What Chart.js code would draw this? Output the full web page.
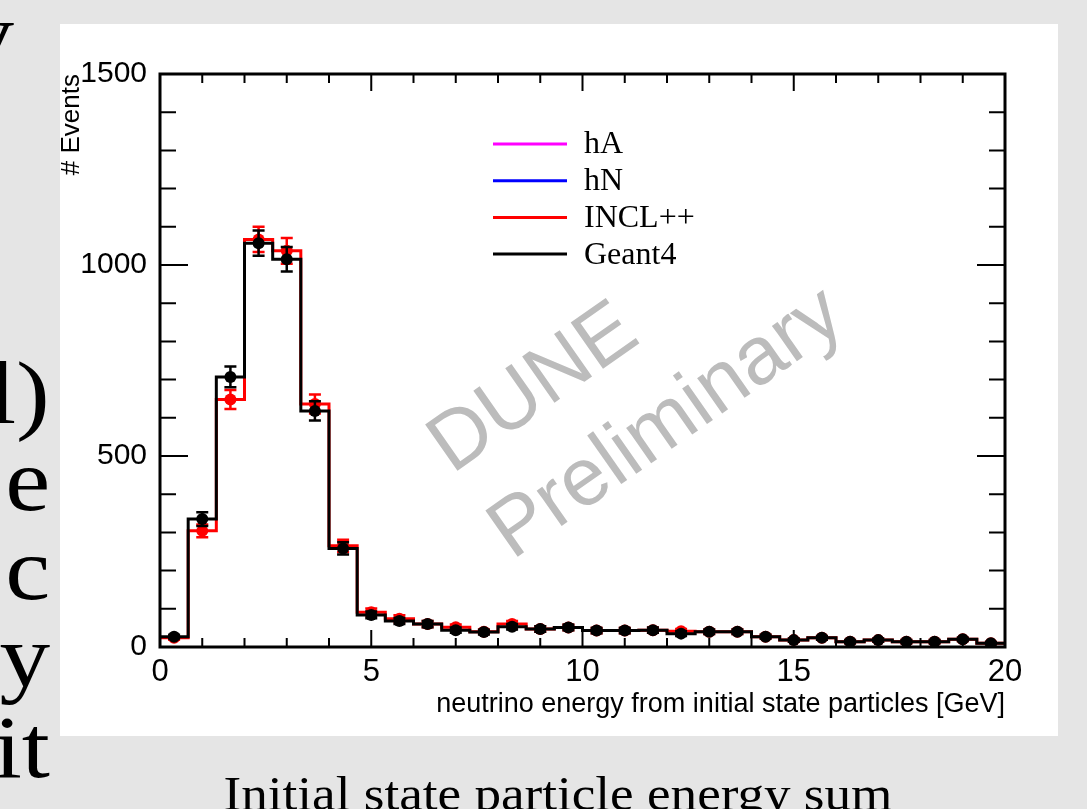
<!DOCTYPE html>
<html>
<head>
<meta charset="utf-8">
<script src="https://cdn.jsdelivr.net/npm/chart.js@4.4.1/dist/chart.umd.min.js"></script>
<style>
  html, body { margin: 0; padding: 0; }
  body {
    width: 1087px; height: 809px; overflow: hidden; position: relative;
    background: #e5e5e5; font-family: "Liberation Serif", "Times New Roman", serif; color: #000;
  }
  #panel { position: absolute; left: 60px; top: 24px; width: 998px; height: 712px; background: #fff; }
  .side {
    position: absolute; right: 1037px; font-size: 88px; line-height: 1; white-space: nowrap;
    transform: scaleX(1.15); transform-origin: right center;
  }
  #caption {
    position: absolute; left: 0; top: 770px; width: 1116px; text-align: center;
    font-size: 48px; line-height: 1; white-space: nowrap; transform: scaleX(1.107);
  }
</style>
</head>
<body>
<div class="side" style="right:1073px; top:-9px">y</div>
<div class="side" style="top:350px">l)</div>
<div class="side" style="top:437px">e</div>
<div class="side" style="top:526px">c</div>
<div class="side" style="top:613px">y</div>
<div class="side" style="top:704px">it</div>
<div id="caption">Initial state particle energy sum</div>
<div id="panel"><canvas id="chart" width="998" height="712"></canvas></div>
<script>
// bin edges of the histogram, GeV (30 bins of 2/3 GeV)
const BIN_EDGES = [0, 0.667, 1.333, 2, 2.667, 3.333, 4, 4.667, 5.333, 6, 6.667, 7.333, 8, 8.667, 9.333,
  10, 10.667, 11.333, 12, 12.667, 13.333, 14, 14.667, 15.333, 16, 16.667, 17.333, 18, 18.667, 19.333, 20]

const GEANT4_EVENTS = [27, 335, 707, 1057, 1015, 618, 258, 84, 68, 60, 44, 39, 53, 47, 51,
  43, 43, 44, 35, 40, 40, 27, 18, 24, 14, 18, 14, 14, 20, 10]
const GEANT4_ERRORS = [5, 18, 27, 33, 32, 25, 16, 9, 8, 8, 7, 6, 7, 7, 7,
  7, 7, 7, 6, 6, 6, 5, 4, 5, 4, 4, 4, 4, 4, 3]

const INCL_EVENTS = [24, 304, 648, 1067, 1037, 636, 265, 91, 74, 60, 52, 40, 60, 47, 51,
  43, 43, 44, 41, 40, 40, 27, 18, 24, 14, 18, 14, 14, 20, 10]
const INCL_ERRORS = [5, 17, 25, 33, 34, 25, 16, 10, 9, 8, 7, 6, 8, 7, 7,
  7, 7, 7, 6, 6, 6, 5, 4, 5, 4, 4, 4, 4, 4, 3]

const X_TICKS = [0, 5, 10, 15, 20]
const Y_TICKS = [0, 500, 1000, 1500]

const LEGEND_LABELS = ['hA', 'hN', 'INCL++', 'Geant4']
const LEGEND_COLORS = ['#ff00ff', '#0000ff', '#ff0000', '#000000']

function stepPoints(values) {
  return BIN_EDGES.map((x, i) => ({ x, y: values[Math.min(i, values.length - 1)] }))
}

function centerPoints(values) {
  return values.map((y, i) => ({ x: (BIN_EDGES[i] + BIN_EDGES[i + 1]) / 2, y }))
}

const sansFont = '"Liberation Sans", Arial, Helvetica, sans-serif'

// error bars are drawn just before the dots of their dataset
const errorBars = {
  id: 'errorBars',
  beforeDatasetDraw(chart, args) {
    const ds = chart.data.datasets[args.index]
    if (!ds.errors) return
    const { ctx, scales: { x, y } } = chart
    ctx.save()
    ctx.strokeStyle = ds.borderColor
    ctx.lineWidth = 2.5
    ds.data.forEach((p, i) => {
      const px = x.getPixelForValue(p.x)
      const top = y.getPixelForValue(p.y + ds.errors[i])
      const bottom = y.getPixelForValue(p.y - ds.errors[i])
      ctx.beginPath()
      ctx.moveTo(px, top)
      ctx.lineTo(px, bottom)
      ctx.moveTo(px - 6, top)
      ctx.lineTo(px + 6, top)
      ctx.moveTo(px - 6, bottom)
      ctx.lineTo(px + 6, bottom)
      ctx.stroke()
    })
    ctx.restore()
  },
}

const watermark = {
  id: 'watermark',
  beforeDatasetsDraw(chart) {
    const { ctx } = chart
    ctx.save()
    ctx.translate(379, 432)
    ctx.rotate(-35 * Math.PI / 180)
    ctx.fillStyle = '#bcbcbc'
    ctx.font = '82px ' + sansFont
    ctx.textAlign = 'left'
    ctx.textBaseline = 'middle'
    ctx.fillText('DUNE', 0, 0)
    ctx.fillText('Preliminary', 0, 105)
    ctx.restore()
  },
}

// ROOT style frame with inward ticks on all four sides
const frame = {
  id: 'frame',
  afterDatasetsDraw(chart) {
    const { ctx, chartArea: a, scales: { x, y } } = chart
    ctx.save()
    ctx.strokeStyle = '#000'
    ctx.lineWidth = 2
    ctx.beginPath()
    for (let v = 1; v < 20; v++) {
      const px = x.getPixelForValue(v)
      const len = v % 5 === 0 ? 17 : 9
      ctx.moveTo(px, a.bottom)
      ctx.lineTo(px, a.bottom - len)
      ctx.moveTo(px, a.top)
      ctx.lineTo(px, a.top + len)
    }
    for (let v = 100; v < 1500; v += 100) {
      const py = y.getPixelForValue(v)
      const len = v % 500 === 0 ? 28 : 16
      ctx.moveTo(a.left, py)
      ctx.lineTo(a.left + len, py)
      ctx.moveTo(a.right, py)
      ctx.lineTo(a.right - len, py)
    }
    ctx.stroke()
    ctx.lineWidth = 3
    ctx.strokeRect(a.left, a.top, a.right - a.left, a.bottom - a.top)
    ctx.restore()
  },
}

const legendBox = {
  id: 'legendBox',
  afterDraw(chart) {
    const { ctx } = chart
    ctx.save()
    ctx.font = '32px "Liberation Serif", "Times New Roman", serif'
    ctx.textAlign = 'left'
    ctx.textBaseline = 'middle'
    LEGEND_LABELS.forEach((label, i) => {
      const yy = 120 + i * 36.7
      ctx.strokeStyle = LEGEND_COLORS[i]
      ctx.lineWidth = 3
      ctx.beginPath()
      ctx.moveTo(433, yy)
      ctx.lineTo(507, yy)
      ctx.stroke()
      ctx.fillStyle = '#000'
      ctx.fillText(label, 524, yy + 1)
    })
    ctx.restore()
  },
}

new Chart(document.getElementById('chart'), {
  type: 'scatter',
  data: {
    datasets: [
      { label: 'hA', data: [], showLine: true, borderColor: LEGEND_COLORS[0], pointRadius: 0, order: 6 },
      { label: 'hN', data: [], showLine: true, borderColor: LEGEND_COLORS[1], pointRadius: 0, order: 5 },
      {
        label: 'INCL++', data: stepPoints(INCL_EVENTS), showLine: true, stepped: true,
        borderColor: '#ff0000', borderWidth: 3, pointRadius: 0, order: 4,
      },
      {
        label: 'INCL++ points', data: centerPoints(INCL_EVENTS), errors: INCL_ERRORS,
        borderColor: '#ff0000', backgroundColor: '#ff0000', pointRadius: 6, pointBorderWidth: 0, order: 3,
      },
      {
        label: 'Geant4', data: stepPoints(GEANT4_EVENTS), showLine: true, stepped: true,
        borderColor: '#000000', borderWidth: 3, pointRadius: 0, order: 2,
      },
      {
        label: 'Geant4 points', data: centerPoints(GEANT4_EVENTS), errors: GEANT4_ERRORS,
        borderColor: '#000000', backgroundColor: '#000000', pointRadius: 6, pointBorderWidth: 0, order: 1,
      },
    ],
  },
  options: {
    responsive: false,
    animation: false,
    layout: { padding: { top: 50, right: 53, left: 0, bottom: 0 } },
    plugins: { legend: { display: false }, tooltip: { enabled: false } },
    scales: {
      x: {
        type: 'linear',
        min: 0,
        max: 20,
        grid: { display: false, drawTicks: false },
        border: { display: false },
        afterBuildTicks: (scale) => { scale.ticks = X_TICKS.map((value) => ({ value })) },
        afterFit: (scale) => { scale.height = 89 },
        ticks: {
          color: '#000', padding: 7, maxRotation: 0, autoSkip: false,
          font: { family: sansFont, size: 31 }, callback: (v) => String(v),
        },
        title: {
          display: true,
          text: 'neutrino energy from initial state particles [GeV]',
          align: 'end',
          color: '#000',
          font: { family: sansFont, size: 27 },
          padding: { top: 0, bottom: 15 },
        },
      },
      y: {
        min: 0,
        max: 1500,
        grid: { display: false, drawTicks: false },
        border: { display: false },
        afterBuildTicks: (scale) => { scale.ticks = Y_TICKS.map((value) => ({ value })) },
        afterFit: (scale) => { scale.width = 100 },
        ticks: {
          color: '#000', padding: 13, autoSkip: false,
          font: { family: sansFont, size: 30 }, callback: (v) => String(v),
        },
        title: {
          display: true,
          text: '# Events',
          align: 'end',
          color: '#000',
          font: { family: sansFont, size: 26, lineHeight: 0.88 },
          padding: 0,
        },
      },
    },
  },
  plugins: [watermark, errorBars, frame, legendBox],
})
</script>
</body>
</html>
